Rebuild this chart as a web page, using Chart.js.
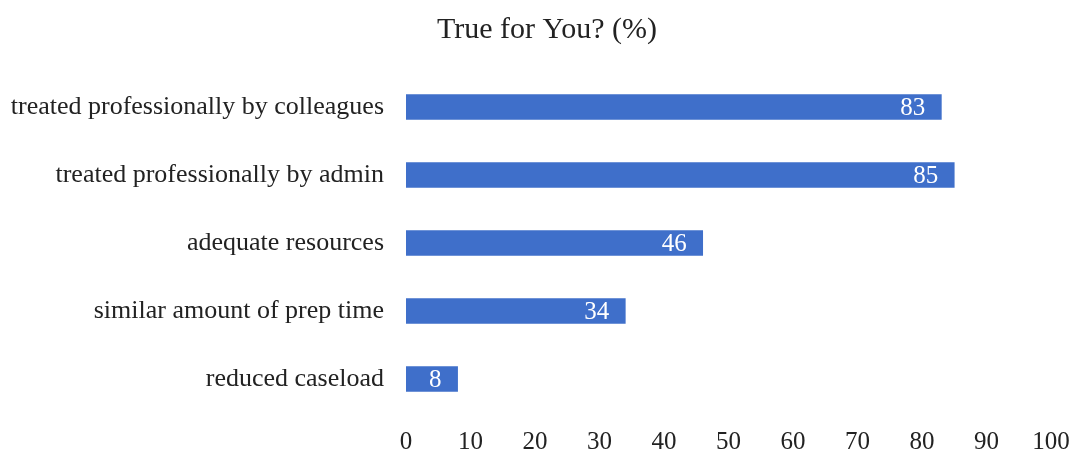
<!DOCTYPE html>
<html>
<head>
<meta charset="utf-8">
<script src="https://cdn.jsdelivr.net/npm/chart.js@4"></script>
<style>
  html, body { margin: 0; padding: 0; background: #fff; }
  #chart { display: block; }
</style>
</head>
<body>
<canvas id="chart" width="1073" height="454"></canvas>
<script>
const categories = [
  'treated professionally by colleagues',
  'treated professionally by admin',
  'adequate resources',
  'similar amount of prep time',
  'reduced caseload'
];
const percentTrue = [83, 85, 46, 34, 8];
const xTicks = [0, 10, 20, 30, 40, 50, 60, 70, 80, 90, 100];

const SERIF = "'Liberation Serif', 'Times New Roman', serif";
const BAR_BLUE = '#3f6fca';

// writes each value in white just inside the end of its bar
const valueLabels = {
  id: 'valueLabels',
  afterDatasetsDraw(chart) {
    const ctx = chart.ctx;
    const meta = chart.getDatasetMeta(0);
    ctx.save();
    ctx.font = '25px ' + SERIF;
    ctx.fillStyle = '#ffffff';
    ctx.textAlign = 'right';
    ctx.textBaseline = 'middle';
    meta.data.forEach((bar, i) => {
      ctx.fillText(String(chart.data.datasets[0].data[i]), bar.x - 16, bar.y + 1);
    });
    ctx.restore();
  }
};

// the title sits a little right of the canvas centre
const titleShift = {
  id: 'titleShift',
  afterLayout(chart) {
    if (chart.titleBlock) chart.titleBlock.left += 21;
  }
};

new Chart(document.getElementById('chart').getContext('2d'), {
  type: 'bar',
  data: {
    labels: categories,
    datasets: [{
      label: 'True for You? (%)',
      data: percentTrue,
      backgroundColor: BAR_BLUE,
      borderWidth: 0,
      barThickness: 25
    }]
  },
  options: {
    indexAxis: 'y',
    responsive: false,
    animation: false,
    layout: { padding: 0 },
    scales: {
      x: {
        min: 0,
        max: 100,
        afterBuildTicks: (scale) => { scale.ticks = xTicks.map(v => ({ value: v })); },
        afterFit: (scale) => {
          scale.height = 41;
          scale.paddingRight = 22;
        },
        grid: { display: false },
        border: { display: false },
        ticks: {
          color: '#222',
          padding: 6,
          font: { family: SERIF, size: 25 }
        }
      },
      y: {
        afterFit: (scale) => { scale.width = 406; },
        grid: { display: false, drawTicks: false },
        border: { display: false },
        ticks: {
          color: '#222',
          padding: 22,
          font: { family: SERIF, size: 26 }
        }
      }
    },
    plugins: {
      legend: { display: false },
      tooltip: { enabled: false },
      title: {
        display: true,
        text: 'True for You? (%)',
        color: '#222',
        font: { family: SERIF, size: 30, weight: 'normal' },
        padding: { top: 12, bottom: 25 }
      }
    }
  },
  plugins: [valueLabels, titleShift]
});
</script>
</body>
</html>
